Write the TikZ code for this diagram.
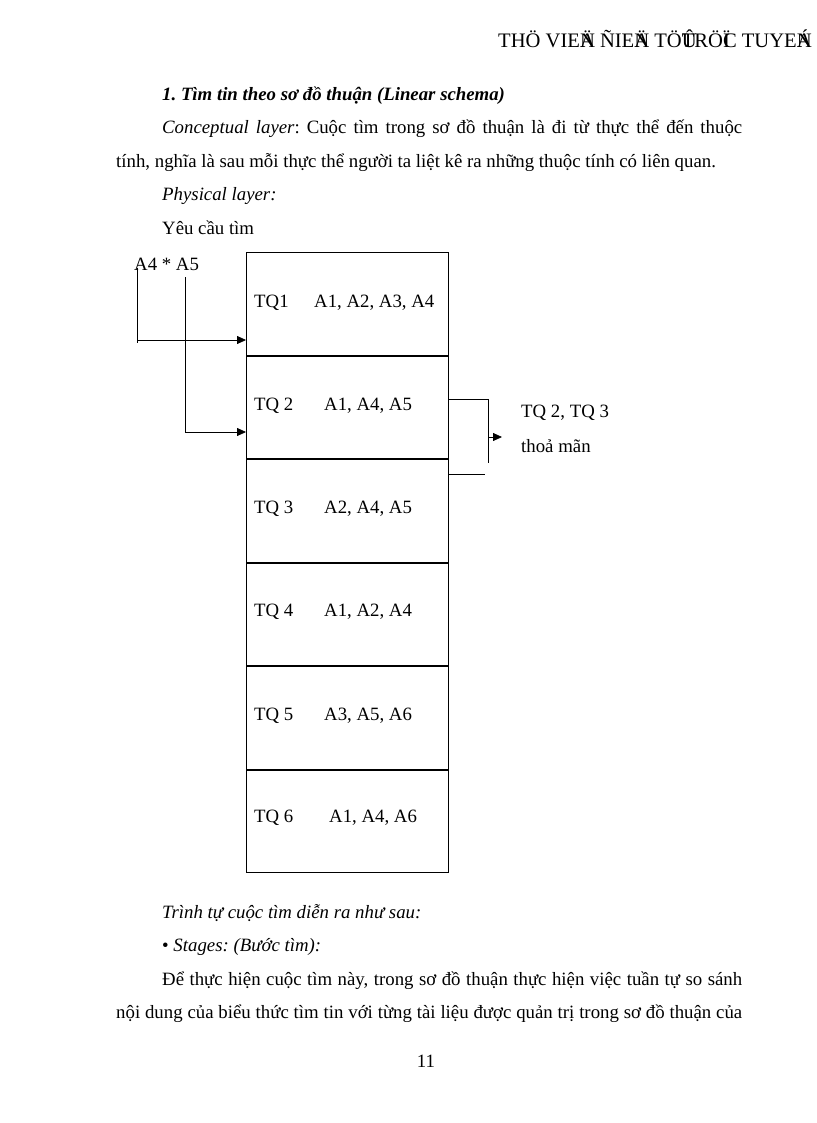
\documentclass[tikz,border=0pt]{standalone}
\usepackage{fontspec}
\setmainfont{Liberation Serif}
\usetikzlibrary{arrows.meta}
\newcommand{\zw}[1]{\rlap{#1}}
\begin{document}
\frenchspacing
\begin{tikzpicture}[x=1pt,y=-1pt,
  txt/.style={inner sep=0pt,anchor=base west,font=\fontsize{18.8}{22}\selectfont},
  hdrtxt/.style={inner sep=0pt,anchor=base west,font=\fontsize{20.6}{24}\selectfont},
  row/.style={draw,line width=0.8pt,minimum width=202pt,minimum height=102.7pt,inner sep=0pt,anchor=north west},
  ln/.style={line width=0.8pt},
  arr/.style={line width=0.8pt,-{Triangle[length=9pt,width=8pt]}}]
\useasboundingbox (0,0) rectangle (816,1123);
% header
\node[hdrtxt] (hdr) at (498,48) {THÖ VIE\zw{Ä}N ÑIE\zw{Ä}N TÖ\zw{Û}TRÖ\zw{Ï}C TUYE\zw{Á}N};
% body text
\node[txt] (h1) at (162,101) {\bfseries\itshape 1. Tìm tin theo sơ đồ thuận (Linear schema)};
\node[txt] (p1) at (162,134) {\makebox[580pt][s]{\itshape Conceptual layer\upshape: Cuộc tìm trong sơ đồ thuận là đi từ thực thể đến thuộc}};
\node[txt] (p2) at (116,168) {tính, nghĩa là sau mỗi thực thể người ta liệt kê ra những thuộc tính có liên quan.};
\node[txt] (p3) at (162,201) {\itshape Physical layer:};
\node[txt] (p4) at (162,234) {Yêu cầu tìm};
% query
\node[txt] (q) at (134,270) {A4 * A5};
% rows
\node[row] (r1) at (246,252) {};
\node[row,anchor=north] (r2) at (r1.south) {};
\node[row,anchor=north] (r3) at (r2.south) {};
\node[row,anchor=north] (r4) at (r3.south) {};
\node[row,anchor=north] (r5) at (r4.south) {};
\node[row,anchor=north] (r6) at (r5.south) {};
% row texts
\node[txt] (t1) at (254,307) {TQ1};  \node[txt] (a1) at (314,307) {A1, A2, A3, A4};
\node[txt] (t2) at (254,410) {TQ 2}; \node[txt] (a2) at (324,410) {A1, A4, A5};
\node[txt] (t3) at (254,513) {TQ 3}; \node[txt] (a3) at (324,513) {A2, A4, A5};
\node[txt] (t4) at (254,616) {TQ 4}; \node[txt] (a4) at (324,616) {A1, A2, A4};
\node[txt] (t5) at (254,720) {TQ 5}; \node[txt] (a5) at (324,720) {A3, A5, A6};
\node[txt] (t6) at (254,822) {TQ 6}; \node[txt] (a6) at (329,822) {A1, A4, A6};
% left connectors
\coordinate (v1top) at (137,268);
\coordinate (v1bot) at (137,343);
\coordinate (v2top) at (185,277);
\draw[ln] (v1top) -- (v1bot);
\draw[arr] (137,340) -- (r1.west |- 0,340);
\draw[arr] (v2top) -- (185,432) -- (r2.west |- 0,432);
% right connectors
\coordinate (b1) at (488,399);
\coordinate (b2) at (488,463);
\coordinate (lo) at (485,474);
\draw[ln] (r2.east |- b1) -- (b1) -- (b2);
\draw[ln] (r3.east |- lo) -- (lo);
\draw[arr] (488,437) -- (502,437);
\node[txt] (res1) at (521,417) {TQ 2, TQ 3};
\node[txt] (res2) at (521,452) {thoả mãn};
% bottom text
\node[txt] (b3) at (162,918) {\itshape Trình tự cuộc tìm diễn ra như sau:};
\node[txt] (b4) at (162,951) {\textbullet\ \itshape Stages: (Bước tìm):};
\node[txt] (b5) at (162,985) {\makebox[580pt][s]{Để thực hiện cuộc tìm này, trong sơ đồ thuận thực hiện việc tuần tự so sánh}};
\node[txt] (b6) at (116,1018) {\makebox[626pt][s]{nội dung của biểu thức tìm tin với từng tài liệu được quản trị trong sơ đồ thuận của}};
\node[txt,anchor=base] (pg) at (426,1067) {11};
\end{tikzpicture}
\end{document}
